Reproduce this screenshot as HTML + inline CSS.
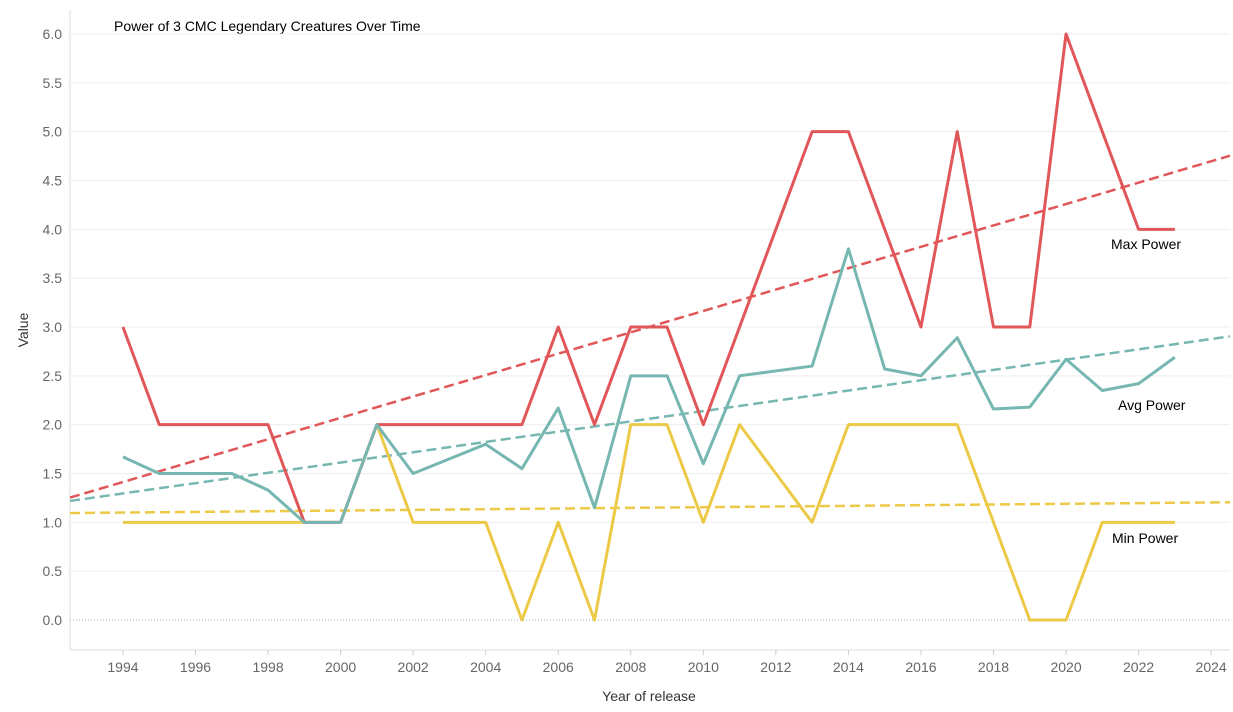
<!DOCTYPE html>
<html><head><meta charset="utf-8"><style>
body{margin:0;background:#fff;font-family:"Liberation Sans",sans-serif}
svg{display:block}
</style></head><body>
<svg id="chart" width="1233" height="712">
<text x="114" y="31" font-size="14" fill="#000">Power of 3 CMC Legendary Creatures Over Time</text>
<text transform="translate(28,330) rotate(-90)" text-anchor="middle" font-size="14" fill="#333">Value</text>
<text x="649" y="701" text-anchor="middle" font-size="14" fill="#333">Year of release</text>
<g id="grid"></g><g id="yt"></g><g id="xt"></g><g id="trends"></g><g id="lines"></g>
<text x="1111" y="249" font-size="14" fill="#000">Max Power</text>
<text x="1118" y="410" font-size="14" fill="#000">Avg Power</text>
<text x="1112" y="543" font-size="14" fill="#000">Min Power</text>
</svg>
<script>
const years=[1994,1995,1996,1997,1998,1999,2000,2001,2002,2003,2004,2005,2006,2007,2008,2009,2010,2011,2012,2013,2014,2015,2016,2017,2018,2019,2020,2021,2022,2023];
const maxPower=[3,2,2,2,2,1,1,2,2,2,2,2,3,2,3,3,2,3,4,5,5,4,3,5,3,3,6,5,4,4];
const avgPower=[1.67,1.5,1.5,1.5,1.33,1,1,2,1.5,1.65,1.8,1.55,2.17,1.15,2.5,2.5,1.6,2.5,2.55,2.6,3.8,2.57,2.5,2.89,2.16,2.18,2.67,2.35,2.42,2.69];
const minPower=[1,1,1,1,1,1,1,2,1,1,1,0,1,0,2,2,1,2,1.5,1,2,2,2,2,1,0,0,1,1,1];
const yTicks=[0,0.5,1,1.5,2,2.5,3,3.5,4,4.5,5,5.5,6];
const xTicks=[1994,1996,1998,2000,2002,2004,2006,2008,2010,2012,2014,2016,2018,2020,2022,2024];
const X0=70,X1=1230,YR0=1992.54,YR1=2024.52;
const xs=y=>X0+(y-YR0)/(YR1-YR0)*(X1-X0);
const ys=v=>620-v*97.67;
const NS="http://www.w3.org/2000/svg";
function mk(tag,attrs,parent){const e=document.createElementNS(NS,tag);for(const k in attrs)e.setAttribute(k,attrs[k]);parent.appendChild(e);return e;}
const grid=document.getElementById('grid'),yt=document.getElementById('yt'),xt=document.getElementById('xt');
yTicks.forEach(v=>{
  const l=mk('line',{x1:X0,x2:X1,y1:ys(v),y2:ys(v),stroke:v===0?'#aaa':'#eee','stroke-width':1,'stroke-dasharray':v===0?'1,2':'none'},grid);
  
  
  const t=mk('text',{x:62,y:ys(v)+5,'text-anchor':'end','font-size':14,fill:'#666'},yt);
  t.textContent=v.toFixed(1);
  
  
});
mk('line',{x1:X0,x2:X0,y1:10,y2:650,stroke:'#ddd'},grid);
mk('line',{x1:X0,x2:X1,y1:650,y2:650,stroke:'#ddd'},grid);
xTicks.forEach(yr=>{
  const t=mk('text',{x:xs(yr),y:672,'text-anchor':'middle','font-size':14,fill:'#666'},xt);
  t.textContent=yr;
  
  
  mk('line',{x1:xs(yr),x2:xs(yr),y1:650,y2:655,stroke:'#ccc'},xt);
});
const series=[['min-power',minPower,'#edc948'],['max-power',maxPower,'#e15759'],['avg-power',avgPower,'#76b7b2']];
const lines=document.getElementById('lines'),trends=document.getElementById('trends');
series.forEach(([n,vals,c])=>{
  const p=mk('polyline',{points:years.map((y,i)=>xs(y)+','+ys(vals[i])).join(' '),fill:'none',stroke:c,'stroke-width':3,'stroke-linejoin':'round'},lines);
  
  
  const N=years.length,mx=years.reduce((a,b)=>a+b)/N,my=vals.reduce((a,b)=>a+b)/N;
  let sxy=0,sxx=0;years.forEach((y,i)=>{sxy+=(y-mx)*(vals[i]-my);sxx+=(y-mx)**2;});
  const b=sxy/sxx,a=my-b*mx;
  const tl=mk('line',{x1:X0,y1:ys(a+b*YR0),x2:X1,y2:ys(a+b*YR1),stroke:c,'stroke-width':2.5,'stroke-dasharray':'10,5'},trends);
  
  
});
</script>
</body></html>
